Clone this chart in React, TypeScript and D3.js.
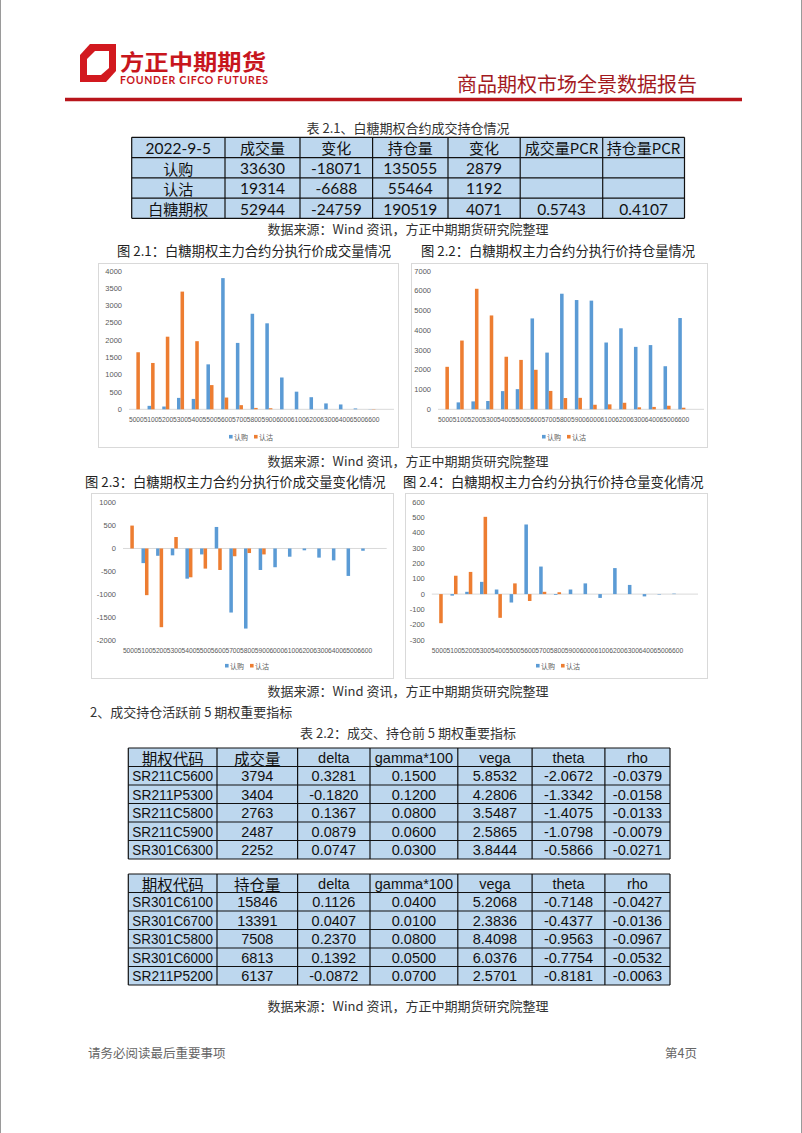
import React from 'react';
import * as d3 from 'd3';

// ---------- data ----------
const strikes = ['5000','5100','5200','5300','5400','5500','5600','5700','5800','5900','6000','6100','6200','6300','6400','6500','6600'];
const bandDomain = [...strikes, ''];

const volCall = [0, 100, 80, 330, 300, 1300, 3794, 1920, 2763, 2487, 920, 510, 350, 170, 140, 25, 5];
const volPut = [1650, 1340, 2100, 3404, 1970, 700, 340, 120, 40, 30, 0, 0, 0, 0, 0, 0, 8];
const oiCall = [0, 350, 400, 420, 920, 1020, 4600, 2870, 5850, 5530, 5500, 3380, 4100, 3160, 3250, 2180, 4620];
const oiPut = [2150, 3480, 6100, 4750, 2660, 2500, 2000, 930, 570, 580, 230, 250, 330, 100, 120, 180, 80];
const dVolCall = [0, -320, -160, -150, -660, -130, 470, -1400, -1750, -470, -410, -180, -40, -200, -260, -600, -50];
const dVolPut = [500, -1020, -1720, 250, -630, -440, -470, -170, -100, -130, 0, 0, 0, 0, 0, 0, 0];
const dOiCall = [0, -10, 15, 80, 30, -55, 455, 180, -5, 30, 70, -25, 170, 60, -15, -3, 3];
const dOiPut = [-190, 120, 145, 505, -155, 70, -45, 15, 12, 0, 0, 0, 0, 0, 0, 0, 0];

const seriesNames = ['认购', '认沽'];

const t21Header = ['2022-9-5', '成交量', '变化', '持仓量', '变化', '成交量PCR', '持仓量PCR'];
const t21Rows = [
  ['认购', '33630', '-18071', '135055', '2879', '', ''],
  ['认沽', '19314', '-6688', '55464', '1192', '', ''],
  ['白糖期权', '52944', '-24759', '190519', '4071', '0.5743', '0.4107'],
];

const t22aHeader = ['期权代码', '成交量', 'delta', 'gamma*100', 'vega', 'theta', 'rho'];
const t22aRows = [
  ['SR211C5600', '3794', '0.3281', '0.1500', '5.8532', '-2.0672', '-0.0379'],
  ['SR211P5300', '3404', '-0.1820', '0.1200', '4.2806', '-1.3342', '-0.0158'],
  ['SR211C5800', '2763', '0.1367', '0.0800', '3.5487', '-1.4075', '-0.0133'],
  ['SR211C5900', '2487', '0.0879', '0.0600', '2.5865', '-1.0798', '-0.0079'],
  ['SR301C6300', '2252', '0.0747', '0.0300', '3.8444', '-0.5866', '-0.0271'],
];
const t22bHeader = ['期权代码', '持仓量', 'delta', 'gamma*100', 'vega', 'theta', 'rho'];
const t22bRows = [
  ['SR301C6100', '15846', '0.1126', '0.0400', '5.2068', '-0.7148', '-0.0427'],
  ['SR301C6700', '13391', '0.0407', '0.0100', '2.3836', '-0.4377', '-0.0136'],
  ['SR301C5800', '7508', '0.2370', '0.0800', '8.4098', '-0.9563', '-0.0967'],
  ['SR301C6000', '6813', '0.1392', '0.0500', '6.0376', '-0.7754', '-0.0532'],
  ['SR211P5200', '6137', '-0.0872', '0.0700', '2.5701', '-0.8181', '-0.0063'],
];

// ---------- styles ----------
const CJK = '"Noto Sans CJK SC", "Noto Sans", sans-serif';
const ARIAL = '"Liberation Sans", Arial, sans-serif';
const BLUE = '#5B9BD5';
const ORANGE = '#ED7D31';
const AXIS_TXT = '#595959';
const CELL_FILL = '#BDD7EE';

type PanelProps = {
  frame: [number, number, number, number];
  xRange: [number, number];
  yDomain: [number, number];
  yRange: [number, number];
  step: number;
  call: number[];
  put: number[];
  xLabelY: number;
  legendCx: number;
  legendY: number;
};

function BarPanel(p: PanelProps) {
  const x = d3.scaleBand<string>().domain(bandDomain).range(p.xRange).padding(0);
  const y = d3.scaleLinear().domain(p.yDomain).range(p.yRange);
  const ticks = d3.range(p.yDomain[0], p.yDomain[1] + 1, p.step);
  const bw = x.bandwidth() * 0.24;
  const y0 = y(0);
  const [fx, fy, fw, fh] = p.frame;
  const lg = p.legendCx - 22;
  return (
    <g>
      <rect x={fx + 0.5} y={fy + 0.5} width={fw} height={fh} fill="#fff" stroke="#D9D9D9" strokeWidth={1} />
      {ticks.map((t) => (
        <text key={t} x={p.xRange[0] - 7} y={y(t)} textAnchor="end" dominantBaseline="central"
          fontSize={7.5} fill={AXIS_TXT} fontFamily={ARIAL}>{t}</text>
      ))}
      <line x1={p.xRange[0]} x2={p.xRange[1]} y1={y0} y2={y0} stroke="#D9D9D9" strokeWidth={1} />
      {strikes.map((s, i) => {
        const cx = (x(s) as number) + x.bandwidth() / 2;
        const vc = p.call[i];
        const vp = p.put[i];
        return (
          <g key={s}>
            <rect x={cx - bw} y={Math.min(y(vc), y0)} width={bw} height={Math.abs(y(vc) - y0)} fill={BLUE} />
            <rect x={cx} y={Math.min(y(vp), y0)} width={bw} height={Math.abs(y(vp) - y0)} fill={ORANGE} />
            <text x={cx} y={p.xLabelY} textAnchor="middle" dominantBaseline="central" fontSize={6.7}
              fill={AXIS_TXT} fontFamily={ARIAL}>{s}</text>
          </g>
        );
      })}
      <g fontSize={7} fill={AXIS_TXT} fontFamily={CJK}>
        <rect x={lg} y={p.legendY - 1.8} width={3.6} height={3.6} fill={BLUE} />
        <text x={lg + 5} y={p.legendY} dominantBaseline="central">{seriesNames[0]}</text>
        <rect x={lg + 25} y={p.legendY - 1.8} width={3.6} height={3.6} fill={ORANGE} />
        <text x={lg + 30} y={p.legendY} dominantBaseline="central">{seriesNames[1]}</text>
      </g>
    </g>
  );
}

type TableProps = {
  cols: number[];
  top: number;
  rowH: number;
  header: string[];
  rows: string[][];
  latinFont: string;
  latinSize: number;
  cjkSize: number;
  fitFirstCol?: boolean;
};

const isCJK = (s: string) => /[\u4e00-\u9fff]/.test(s);

function Table(p: TableProps) {
  const all = [p.header, ...p.rows];
  const bottom = p.top + all.length * p.rowH;
  return (
    <g>
      <rect x={p.cols[0]} y={p.top} width={p.cols[p.cols.length - 1] - p.cols[0]} height={bottom - p.top} fill={CELL_FILL} />
      {all.map((r, ri) => r.map((c, ci) => {
        const cjk = isCJK(c);
        const fit = p.fitFirstCol && ci === 0 && !cjk;
        return (
          <text key={ri + '-' + ci} x={(p.cols[ci] + p.cols[ci + 1]) / 2} y={p.top + p.rowH * (ri + 0.5) + 0.5}
            textAnchor="middle" dominantBaseline="central"
            fontSize={cjk ? p.cjkSize : p.latinSize}
            fontFamily={cjk ? CJK : p.latinFont} fill="#111"
            textLength={fit ? p.cols[1] - p.cols[0] - 8 : undefined}
            lengthAdjust={fit ? 'spacingAndGlyphs' : undefined}>{c}</text>
        );
      }))}
      {d3.range(all.length + 1).map((i) => (
        <line key={'h' + i} x1={p.cols[0]} x2={p.cols[p.cols.length - 1]} y1={p.top + i * p.rowH} y2={p.top + i * p.rowH} stroke="#111" strokeWidth={1.2} />
      ))}
      {p.cols.map((cx, i) => (
        <line key={'v' + i} x1={cx} x2={cx} y1={p.top} y2={bottom} stroke="#111" strokeWidth={1.2} />
      ))}
    </g>
  );
}

const SRC = '数据来源：Wind 资讯，方正中期期货研究院整理';

export default function App() {
  return (
    <svg width={802} height={1133} style={{ position: 'absolute', left: 0, top: 0, background: '#fff' }}>
      <rect x={0} y={0} width={802} height={1133} fill="#fff" />
      <line x1={0.5} x2={0.5} y1={0} y2={1133} stroke="#9a9a9a" />
      <line x1={801.5} x2={801.5} y1={0} y2={1133} stroke="#9a9a9a" />
      {/* header */}
      <path d="M80,55 L90,44 L116,44 L116,71 L106,82 L80,82 Z" fill="#D2191F" />
      <path d="M87,59 L95,51 L109,51 L109,68 L101,75 L87,75 Z" fill="#fff" />
      <text x={120} y={59.5} fontSize={22} fontWeight={700} fill="#C8161D" fontFamily={CJK} dominantBaseline="central" textLength={146} lengthAdjust="spacingAndGlyphs">方正中期期货</text>
      <text x={120} y={79.5} fontSize={10.5} fontWeight={700} fill="#C8161D" fontFamily="Lato, sans-serif" dominantBaseline="central" textLength={148}>FOUNDER CIFCO FUTURES</text>
      <text x={697} y={83} fontSize={20} fill="#A31A1F" fontFamily={CJK} textAnchor="end" dominantBaseline="central">商品期权市场全景数据报告</text>
      <line x1={65} x2={742} y1={99.5} y2={99.5} stroke="#B8151B" strokeWidth={3.5} />

      {/* table 2.1 */}
      <text x={408} y={127} fontSize={13} fill="#333" fontFamily={CJK} textAnchor="middle" dominantBaseline="central">表 2.1、白糖期权合约成交持仓情况</text>
      <Table cols={[131.7, 225, 300, 372.6, 448, 520.2, 602.7, 684.5]} top={137.3} rowH={20.25}
        header={t21Header} rows={t21Rows} latinFont="Lato, sans-serif" latinSize={15.5} cjkSize={15} />
      <text x={408} y={228} fontSize={13} fill="#333" fontFamily={CJK} textAnchor="middle" dominantBaseline="central">{SRC}</text>

      {/* charts row 1 */}
      <text x={117} y={250} fontSize={13.3} fill="#222" fontFamily={CJK} dominantBaseline="central">图 2.1：白糖期权主力合约分执行价成交量情况</text>
      <text x={421} y={250} fontSize={13.3} fill="#222" fontFamily={CJK} dominantBaseline="central">图 2.2：白糖期权主力合约分执行价持仓量情况</text>
      <BarPanel frame={[98, 263, 300, 184]} xRange={[129, 394]} yDomain={[0, 4000]} yRange={[409.3, 271]} step={500}
        call={volCall} put={volPut} xLabelY={419.3} legendCx={251} legendY={436.7} />
      <BarPanel frame={[411, 263, 296, 184]} xRange={[438, 704]} yDomain={[0, 7000]} yRange={[409.3, 271]} step={1000}
        call={oiCall} put={oiPut} xLabelY={419.3} legendCx={564} legendY={436.7} />
      <text x={408} y={460} fontSize={13} fill="#333" fontFamily={CJK} textAnchor="middle" dominantBaseline="central">{SRC}</text>

      {/* charts row 2 */}
      <text x={85} y={481} fontSize={13.3} fill="#222" fontFamily={CJK} dominantBaseline="central">图 2.3：白糖期权主力合约分执行价成交量变化情况</text>
      <text x={403} y={481} fontSize={13.3} fill="#222" fontFamily={CJK} dominantBaseline="central">图 2.4：白糖期权主力合约分执行价持仓量变化情况</text>
      <BarPanel frame={[91, 493, 302, 185]} xRange={[123, 386.7]} yDomain={[-2000, 1000]} yRange={[640, 502.7]} step={500}
        call={dVolCall} put={dVolPut} xLabelY={650} legendCx={247} legendY={665.7} />
      <BarPanel frame={[405, 493, 302, 185]} xRange={[431.8, 698]} yDomain={[-300, 600]} yRange={[640, 502.3]} step={100}
        call={dOiCall} put={dOiPut} xLabelY={650} legendCx={558} legendY={665.7} />
      <text x={408} y={690} fontSize={13} fill="#333" fontFamily={CJK} textAnchor="middle" dominantBaseline="central">{SRC}</text>

      {/* section 2 */}
      <text x={90} y={711} fontSize={13} fill="#333" fontFamily={CJK} dominantBaseline="central">2、成交持仓活跃前 5 期权重要指标</text>
      <text x={408} y={732} fontSize={13} fill="#333" fontFamily={CJK} textAnchor="middle" dominantBaseline="central">表 2.2：成交、持仓前 5 期权重要指标</text>
      <Table cols={[128.3, 217, 297.6, 370, 457.8, 532.1, 604.9, 670]} top={748} rowH={18.5}
        header={t22aHeader} rows={t22aRows} latinFont={ARIAL} latinSize={14.5} cjkSize={15.5} fitFirstCol />
      <Table cols={[128.3, 217, 297.6, 370, 457.8, 532.1, 604.9, 670]} top={874} rowH={18.5}
        header={t22bHeader} rows={t22bRows} latinFont={ARIAL} latinSize={14.5} cjkSize={15.5} fitFirstCol />
      <text x={408} y={1005} fontSize={13} fill="#333" fontFamily={CJK} textAnchor="middle" dominantBaseline="central">{SRC}</text>

      {/* footer */}
      <text x={88} y={1052} fontSize={12.5} fill="#666" fontFamily={CJK} dominantBaseline="central">请务必阅读最后重要事项</text>
      <text x={697} y={1052} fontSize={12.5} fill="#666" fontFamily={CJK} textAnchor="end" dominantBaseline="central">第4页</text>
    </svg>
  );
}
